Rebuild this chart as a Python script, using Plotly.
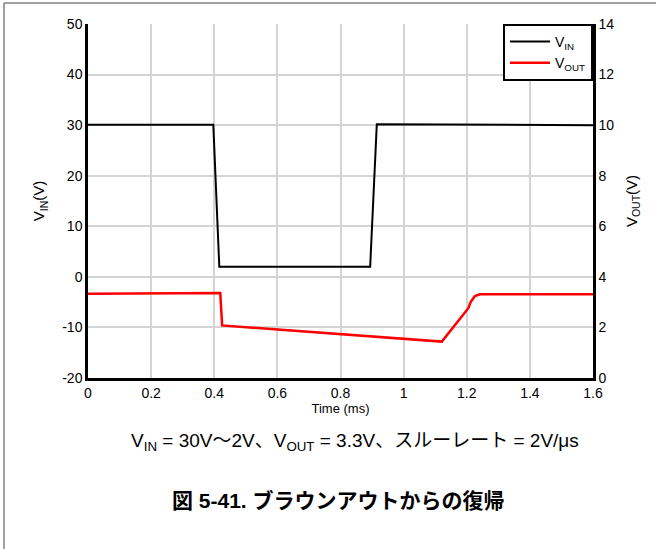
import plotly.graph_objects as go

# Data
vin_t = [0.0, 0.397, 0.416, 0.894, 0.915, 1.6]
vin_v = [30.1, 30.1, 2.0, 2.0, 30.2, 30.0]

vout_t = [0.0, 0.415, 0.419, 0.425, 1.121, 1.205, 1.213, 1.226, 1.242, 1.6]
vout_v = [3.33, 3.36, 3.36, 2.08, 1.44, 2.76, 3.02, 3.24, 3.31, 3.31]

x_ticks = [0, 0.2, 0.4, 0.6, 0.8, 1, 1.2, 1.4, 1.6]
x_tick_labels = ["0", "0.2", "0.4", "0.6", "0.8", "1", "1.2", "1.4", "1.6"]
y1_ticks = [-20, -10, 0, 10, 20, 30, 40, 50]
y1_tick_labels = ["-20", "-10", "0", "10", "20", "30", "40", "50"]
y2_ticks = [0, 2, 4, 6, 8, 10, 12, 14]

note_text = "V<sub>IN</sub> = 30V～2V、V<sub>OUT</sub> = 3.3V、スルーレート = 2V/μs"
caption_text = "<b>図 5-41. ブラウンアウトからの復帰</b>"

FONT = "Liberation Sans, Arial, Noto Sans CJK JP, sans-serif"
GRID = "#d4d4d4"

W, H = 661, 549
ML, MR, MT, MB = 88, 68, 24, 171
pw, ph = W - ML - MR, H - MT - MB


def px(x):
    return (x - ML) / pw


def py(y):
    return (H - y - MB) / ph


fig = go.Figure()
fig.add_trace(go.Scatter(x=vin_t, y=vin_v, mode="lines", name="V<sub>IN</sub>",
                         line=dict(color="black", width=2)))
fig.add_trace(go.Scatter(x=vout_t, y=vout_v, mode="lines", name="V<sub>OUT</sub>",
                         line=dict(color="#ff0000", width=2.5), yaxis="y2"))

fig.update_layout(
    width=W, height=H,
    margin=dict(l=ML, r=MR, t=MT, b=MB),
    paper_bgcolor="white", plot_bgcolor="white",
    font=dict(family=FONT, size=14, color="black"),
    showlegend=True,
    legend=dict(x=1, y=1, xanchor="right", yanchor="top",
                bordercolor="black", borderwidth=2, bgcolor="white",
                font=dict(size=14), itemwidth=40, tracegroupgap=0),
    xaxis=dict(range=[0, 1.6], tickvals=x_ticks, ticktext=x_tick_labels,
               showgrid=True, gridcolor=GRID, gridwidth=1.5,
               showline=True, linecolor="black", linewidth=2.5, mirror=False,
               ticks="", zeroline=False,
               title=dict(text="Time (ms)", font=dict(size=13), standoff=2)),
    yaxis=dict(range=[-20, 50], tickvals=y1_ticks, ticktext=y1_tick_labels,
               showgrid=True, gridcolor=GRID, gridwidth=1.5,
               showline=True, linecolor="black", linewidth=2.5,
               ticks="", zeroline=False,
               title=dict(text="V<sub>IN</sub>(V)", font=dict(size=15), standoff=14)),
    yaxis2=dict(range=[0, 14], tickvals=y2_ticks, overlaying="y", side="right",
                showgrid=False, showline=True, linecolor="black", linewidth=2.5,
                ticks="", zeroline=False,
                title=dict(text="V<sub>OUT</sub>(V)", font=dict(size=15), standoff=14)),
    annotations=[
        dict(text=note_text, x=px(355), y=py(442), xref="paper", yref="paper",
             xanchor="center", yanchor="middle", showarrow=False, font=dict(size=19)),
        dict(text=caption_text, x=px(338), y=py(500), xref="paper", yref="paper",
             xanchor="center", yanchor="middle", showarrow=False, font=dict(size=21)),
    ],
    shapes=[
        dict(type="line", xref="paper", yref="paper",
             x0=px(4), x1=px(4), y0=py(549), y1=py(3),
             line=dict(color="#808080", width=1.5)),
        dict(type="line", xref="paper", yref="paper",
             x0=px(4), x1=px(656), y0=py(3), y1=py(3),
             line=dict(color="#808080", width=1.5)),
    ],
)

fig.write_html("out.html", config={"displayModeBar": False},
               post_script="document.body.style.margin='0px';")
